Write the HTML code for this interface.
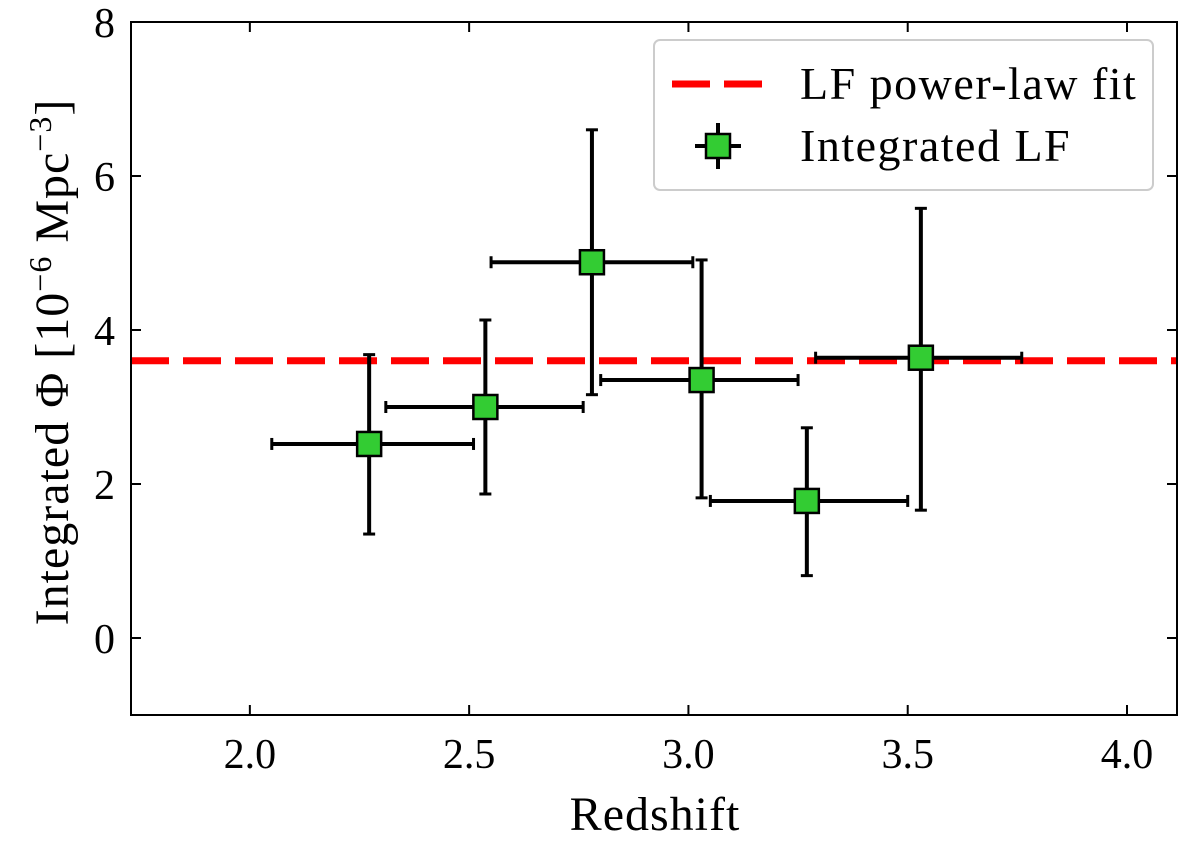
<!DOCTYPE html>
<html><head><meta charset="utf-8"><style>
body{margin:0;background:#fff}
svg text{font-family:"Liberation Serif","DejaVu Serif",serif;fill:#000}
</style></head><body>
<svg id="chart" width="1200" height="842" xmlns="http://www.w3.org/2000/svg"></svg>
<script>
const redshift=[2.272,2.537,2.78,3.03,3.27,3.53];
const phi=[2.52,3.0,4.88,3.35,1.78,3.64];
const xLo=[2.05,2.31,2.55,2.80,3.05,3.29];
const xHi=[2.51,2.76,3.01,3.25,3.50,3.76];
const yLo=[1.35,1.87,3.16,1.82,0.81,1.66];
const yHi=[3.68,4.13,6.6,4.91,2.73,5.58];
const fitValue=[3.6];
const xTicks=[2.0,2.5,3.0,3.5,4.0];
const xTickLabels=["2.0","2.5","3.0","3.5","4.0"];
const yTicks=[0,2,4,6,8];
const yTickLabels=["0","2","4","6","8"];
const L=131,R=1177,T=22,B=715,x0=1.729,x1=4.114,y0=-1,y1=8;
const X=v=>L+(v-x0)/(x1-x0)*(R-L);
const Y=v=>B-(v-y0)/(y1-y0)*(B-T);
const svg=document.getElementById('chart');
const NS='http://www.w3.org/2000/svg';
function mk(tag,a,p){const e=document.createElementNS(NS,tag);for(const k in a)e.setAttribute(k,a[k]);(p||svg).appendChild(e);return e;}
let fl=mk('line',{x1:L,x2:R,y1:Y(fitValue[0]),y2:Y(fitValue[0]),stroke:'#f00','stroke-width':7,'stroke-dasharray':'38,14'});


for(let i=0;i<redshift.length;i++){
  const g=mk('g',{});
  
  
  const cx=X(redshift[i]),cy=Y(phi[i]);
  mk('line',{x1:X(xLo[i]),x2:X(xHi[i]),y1:cy,y2:cy,stroke:'#000','stroke-width':4},g);
  mk('line',{x1:cx,x2:cx,y1:Y(yLo[i]),y2:Y(yHi[i]),stroke:'#000','stroke-width':4},g);
  [xLo[i],xHi[i]].forEach(v=>mk('line',{x1:X(v),x2:X(v),y1:cy-6,y2:cy+6,stroke:'#000','stroke-width':3},g));
  [yLo[i],yHi[i]].forEach(v=>mk('line',{x1:cx-6,x2:cx+6,y1:Y(v),y2:Y(v),stroke:'#000','stroke-width':3},g));
  mk('rect',{x:cx-12,y:cy-12,width:24,height:24,fill:'#33cc33',stroke:'#000','stroke-width':2.5},g);
}
let fr=mk('rect',{x:L,y:T,width:R-L,height:B-T,fill:'none',stroke:'#000','stroke-width':2});


xTicks.forEach((v,i)=>{
  const x=X(v);
  mk('line',{x1:x,x2:x,y1:B,y2:B-10,stroke:'#000','stroke-width':2});
  mk('line',{x1:x,x2:x,y1:T,y2:T+10,stroke:'#000','stroke-width':2});
  const t=mk('text',{x:x,y:B+53,'font-size':42,'text-anchor':'middle'});t.textContent=xTickLabels[i];
  
  
});
yTicks.forEach((v,i)=>{
  const y=Y(v);
  mk('line',{x1:L,x2:L+10,y1:y,y2:y,stroke:'#000','stroke-width':2});
  mk('line',{x1:R,x2:R-10,y1:y,y2:y,stroke:'#000','stroke-width':2});
  const t=mk('text',{x:L-16,y:y+15,'font-size':42,'text-anchor':'end'});t.textContent=yTickLabels[i];
  
  
});
</script>
<svg style="position:absolute;left:0;top:0" width="1200" height="842" xmlns="http://www.w3.org/2000/svg">
<text x="655" y="830" font-size="48" text-anchor="middle" letter-spacing="1">Redshift</text>
<text transform="translate(68,362) rotate(-90)" font-size="48" text-anchor="middle" letter-spacing="1">Integrated Φ [10<tspan dy="-17" font-size="32">−6</tspan><tspan dy="17"> Mpc</tspan><tspan dy="-17" font-size="32">−3</tspan><tspan dy="17">]</tspan></text>
<g>
<rect x="654" y="40" width="499" height="150" rx="6" fill="#fff" fill-opacity="0.8" stroke="#ccc" stroke-width="2"/>
<line x1="672" x2="766" y1="84" y2="84" stroke="#f00" stroke-width="7" stroke-dasharray="38,14"/>
<text x="800" y="99" font-size="46" letter-spacing="1.5">LF power-law fit</text>
<line x1="695" x2="741" y1="146" y2="146" stroke="#000" stroke-width="4"/>
<line x1="718" x2="718" y1="123" y2="169" stroke="#000" stroke-width="4"/>
<rect x="706" y="134" width="24" height="24" fill="#33cc33" stroke="#000" stroke-width="2.5"/>
<text x="800" y="161" font-size="46" letter-spacing="1.5">Integrated LF</text>
</g>
</svg>
</body></html>
